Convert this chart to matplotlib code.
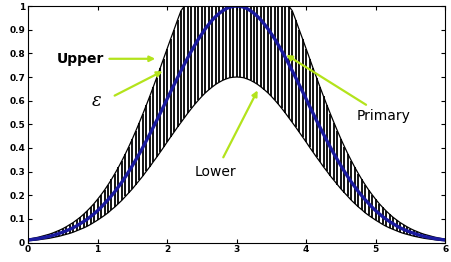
import numpy as np
import matplotlib.pyplot as plt

# x grid, step 0.05 from 0 to 6
x = np.linspace(0, 6, 121)

# values (left half, then peak, then right half)
primary = [0.011, 0.013, 0.015, 0.017, 0.020, 0.023, 0.026, 0.030, 0.034, 0.039,
           0.044, 0.050, 0.056, 0.063, 0.071, 0.080, 0.089, 0.099, 0.110, 0.122,
           0.135, 0.149, 0.165, 0.181, 0.198, 0.216, 0.236, 0.256, 0.278, 0.301,
           0.325, 0.350, 0.375, 0.402, 0.430, 0.458, 0.487, 0.516, 0.546, 0.576,
           0.607, 0.637, 0.667, 0.697, 0.726, 0.755, 0.783, 0.810, 0.835, 0.860,
           0.882, 0.904, 0.923, 0.941, 0.956, 0.969, 0.980, 0.989, 0.995, 0.999,
           1.000,
           0.999, 0.995, 0.989, 0.980, 0.969, 0.956, 0.941, 0.923, 0.904, 0.882,
           0.860, 0.835, 0.810, 0.783, 0.755, 0.726, 0.697, 0.667, 0.637, 0.607,
           0.576, 0.546, 0.516, 0.487, 0.458, 0.430, 0.402, 0.375, 0.350, 0.325,
           0.301, 0.278, 0.256, 0.236, 0.216, 0.198, 0.181, 0.165, 0.149, 0.135,
           0.122, 0.110, 0.099, 0.089, 0.080, 0.071, 0.063, 0.056, 0.050, 0.044,
           0.039, 0.034, 0.030, 0.026, 0.023, 0.020, 0.017, 0.015, 0.013, 0.011]

upper = [0.015, 0.017, 0.020, 0.023, 0.027, 0.031, 0.035, 0.040, 0.046, 0.052,
         0.059, 0.067, 0.076, 0.085, 0.096, 0.107, 0.120, 0.134, 0.149, 0.165,
         0.183, 0.202, 0.222, 0.244, 0.267, 0.292, 0.318, 0.346, 0.375, 0.406,
         0.438, 0.472, 0.507, 0.543, 0.580, 0.618, 0.657, 0.697, 0.737, 0.778,
         0.819, 0.860, 0.900, 0.941, 0.980, 1.000, 1.000, 1.000, 1.000, 1.000,
         1.000, 1.000, 1.000, 1.000, 1.000, 1.000, 1.000, 1.000, 1.000, 1.000,
         1.000,
         1.000, 1.000, 1.000, 1.000, 1.000, 1.000, 1.000, 1.000, 1.000, 1.000,
         1.000, 1.000, 1.000, 1.000, 1.000, 0.980, 0.941, 0.900, 0.860, 0.819,
         0.778, 0.737, 0.697, 0.657, 0.618, 0.580, 0.543, 0.507, 0.472, 0.438,
         0.406, 0.375, 0.346, 0.318, 0.292, 0.267, 0.244, 0.222, 0.202, 0.183,
         0.165, 0.149, 0.134, 0.120, 0.107, 0.096, 0.085, 0.076, 0.067, 0.059,
         0.052, 0.046, 0.040, 0.035, 0.031, 0.027, 0.023, 0.020, 0.017, 0.015]

lower = [0.008, 0.009, 0.010, 0.012, 0.014, 0.016, 0.018, 0.021, 0.024, 0.027,
         0.031, 0.035, 0.039, 0.044, 0.050, 0.056, 0.062, 0.069, 0.077, 0.086,
         0.095, 0.105, 0.115, 0.126, 0.139, 0.151, 0.165, 0.179, 0.195, 0.211,
         0.227, 0.245, 0.263, 0.281, 0.301, 0.320, 0.341, 0.361, 0.382, 0.403,
         0.425, 0.446, 0.467, 0.488, 0.508, 0.528, 0.548, 0.567, 0.585, 0.602,
         0.618, 0.633, 0.646, 0.658, 0.669, 0.678, 0.686, 0.692, 0.697, 0.699,
         0.700,
         0.699, 0.697, 0.692, 0.686, 0.678, 0.669, 0.658, 0.646, 0.633, 0.618,
         0.602, 0.585, 0.567, 0.548, 0.528, 0.508, 0.488, 0.467, 0.446, 0.425,
         0.403, 0.382, 0.361, 0.341, 0.320, 0.301, 0.281, 0.263, 0.245, 0.227,
         0.211, 0.195, 0.179, 0.165, 0.151, 0.139, 0.126, 0.115, 0.105, 0.095,
         0.086, 0.077, 0.069, 0.062, 0.056, 0.050, 0.044, 0.039, 0.035, 0.031,
         0.027, 0.024, 0.021, 0.018, 0.016, 0.014, 0.012, 0.010, 0.009, 0.008]

xticks = [0, 1, 2, 3, 4, 5, 6]
yticks = [0, 0.1, 0.2, 0.3, 0.4, 0.5, 0.6, 0.7, 0.8, 0.9, 1]
ytick_labels = ['0', '0.1', '0.2', '0.3', '0.4', '0.5', '0.6', '0.7', '0.8', '0.9', '1']

green = '#b3e31c'

fig = plt.figure(figsize=(4.52, 2.62), dpi=100)
ax = fig.add_axes([0.062, 0.074, 0.923, 0.903])

# footprint of uncertainty: vertical lines between lower and upper
ax.vlines(x, lower, upper, color='black', lw=1.3)
ax.plot(x, upper, color='black', lw=0.9)
ax.plot(x, lower, color='black', lw=0.9)
ax.plot(x, primary, color='#1a1a9e', lw=2.4)

ax.set_xlim(0, 6)
ax.set_ylim(0, 1)
ax.set_xticks(xticks)
ax.set_yticks(yticks)
ax.set_yticklabels(ytick_labels)
ax.tick_params(direction='in', top=True, right=True, labelsize=6.5, length=3, pad=2)
for lab in ax.get_xticklabels() + ax.get_yticklabels():
    lab.set_fontweight('bold')
for s in ax.spines.values():
    s.set_linewidth(0.8)

# labels + arrows
arrow = dict(arrowstyle='-|>', color=green, lw=1.6, mutation_scale=8)
ax.annotate('Upper', xy=(1.87, 0.777), xytext=(0.75, 0.777), fontsize=10,
            fontweight='bold', ha='center', va='center', arrowprops=arrow)
ax.annotate('', xy=(1.97, 0.73), xytext=(1.21, 0.616), arrowprops=arrow)
ax.text(0.98, 0.60, 'ε', fontsize=13, family='DejaVu Serif', style='italic',
        ha='center', va='center')
ax.annotate('Primary', xy=(3.68, 0.80), xytext=(5.12, 0.535), fontsize=10,
            ha='center', va='center', arrowprops=arrow)
ax.annotate('', xy=(3.32, 0.654), xytext=(2.79, 0.35), arrowprops=arrow)
ax.text(2.69, 0.298, 'Lower', fontsize=10, ha='center', va='center')

fig.savefig('out.png', dpi=100)
